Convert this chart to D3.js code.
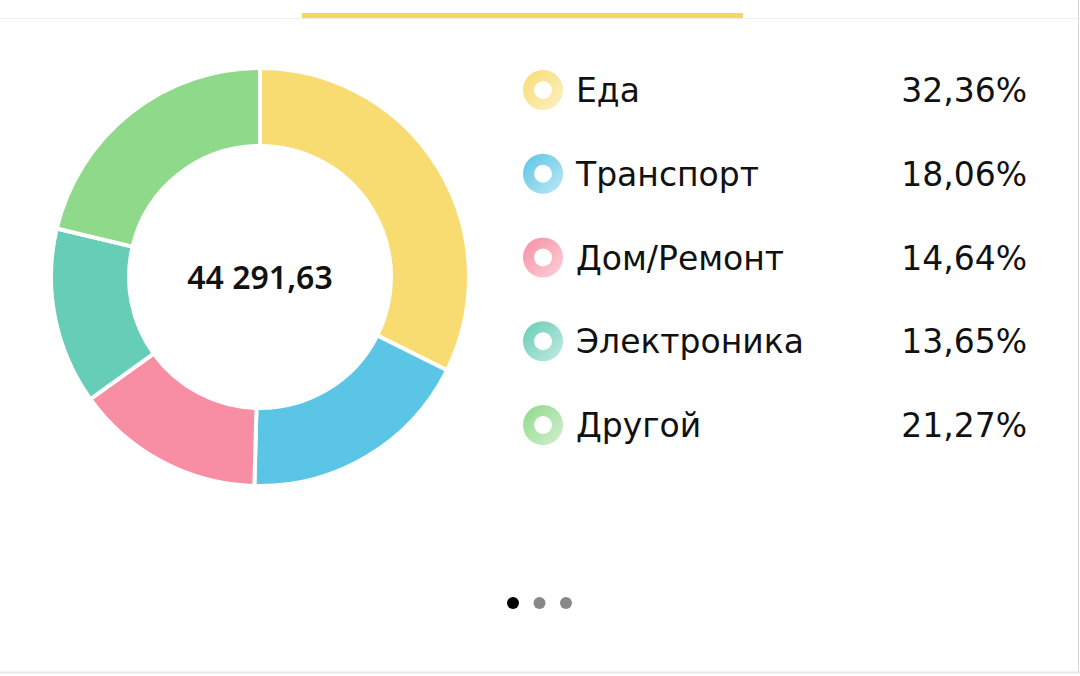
<!DOCTYPE html>
<html>
<head>
<meta charset="utf-8">
<script src="https://cdn.jsdelivr.net/npm/d3@7"></script>
<style>
  html, body { margin: 0; padding: 0; background: #fff; }
  svg { display: block; font-family: "Noto Sans", Roboto, sans-serif; }
  .legend text { font-family: "DejaVu Sans", "Noto Sans", sans-serif; }
</style>
</head>
<body>
<svg id="chart" width="1080" height="676"></svg>
<script>
// categories and shares (percent)
var categories = ['Еда', 'Транспорт', 'Дом/Ремонт', 'Электроника', 'Другой'];
var shares = [32.36, 18.06, 14.64, 13.65, 21.27];
var shareLabels = ['32,36%', '18,06%', '14,64%', '13,65%', '21,27%'];
var colors = ['#f8dc72', '#5bc5e5', '#f78ea3', '#66cdb6', '#8fd98a'];
var totalLabel = '44 291,63';
var pages = [0, 1, 2];

var svg = d3.select('#chart');
var defs = svg.append('defs');

// frame lines
svg.append('line').attr('x1', 0).attr('x2', 1080).attr('y1', 18.5).attr('y2', 18.5)
    .attr('stroke', '#eeeeee');
svg.append('line').attr('x1', 1078.5).attr('x2', 1078.5).attr('y1', 0).attr('y2', 673)
    .attr('stroke', '#d6d6d6');
svg.append('line').attr('x1', 0).attr('x2', 1080).attr('y1', 672.5).attr('y2', 672.5)
    .attr('stroke', '#e6e6e6').attr('stroke-width', 2);
svg.append('rect').attr('x', 302).attr('y', 13).attr('width', 441).attr('height', 5)
    .attr('fill', '#f7d95a');

// donut
var cx = 260, cy = 277;
var pie = d3.pie().sort(null).value(function (d) { return d; });
var arc = d3.arc().innerRadius(131).outerRadius(209);

var g = svg.append('g').attr('transform', 'translate(' + cx + ',' + cy + ')');
g.selectAll('path')
    .data(pie(shares))
    .enter()
    .append('path')
    .attr('d', arc)
    .attr('fill', function (d, i) { return colors[i]; })
    .attr('stroke', '#fff')
    .attr('stroke-width', 4);

g.append('text')
    .attr('text-anchor', 'middle')
    .attr('y', 12)
    .attr('font-size', 32)
    .attr('font-weight', 600)
    .attr('fill', '#111')
    .text(totalLabel);

// legend
var y = d3.scalePoint().domain(categories).range([90, 425]);

categories.forEach(function (c, i) {
    var grad = defs.append('linearGradient').attr('id', 'lg' + i)
        .attr('x1', '0%').attr('y1', '0%').attr('x2', '100%').attr('y2', '100%');
    grad.append('stop').attr('offset', '0%').attr('stop-color', colors[i]);
    grad.append('stop').attr('offset', '100%').attr('stop-color', d3.interpolateRgb(colors[i], '#fff')(0.6));
});

var rows = svg.append('g').attr('class', 'legend')
    .selectAll('.row')
    .data(categories)
    .enter()
    .append('g')
    .attr('class', 'row')
    .attr('transform', function (d) { return 'translate(0,' + y(d) + ')'; });

rows.append('circle')
    .attr('cx', 543)
    .attr('r', 20)
    .attr('fill', function (d, i) { return 'url(#lg' + i + ')'; });
rows.append('circle')
    .attr('cx', 543)
    .attr('r', 9)
    .attr('fill', '#fff');

rows.append('text')
    .attr('x', 576)
    .attr('y', 12)
    .attr('font-size', 33)
    .attr('fill', '#111')
    .text(function (d) { return d; });

rows.append('text')
    .attr('x', 1027)
    .attr('y', 12)
    .attr('text-anchor', 'end')
    .attr('font-size', 33)
    .attr('fill', '#111')
    .text(function (d, i) { return shareLabels[i]; });

// page dots
var px = d3.scalePoint().domain(pages).range([513, 566]);
svg.selectAll('.dot')
    .data(pages)
    .enter()
    .append('circle')
    .attr('class', 'dot')
    .attr('cx', function (d) { return px(d); })
    .attr('cy', 603)
    .attr('r', 6)
    .attr('fill', function (d) { return d === 0 ? '#000' : '#888'; });
</script>
</body>
</html>
